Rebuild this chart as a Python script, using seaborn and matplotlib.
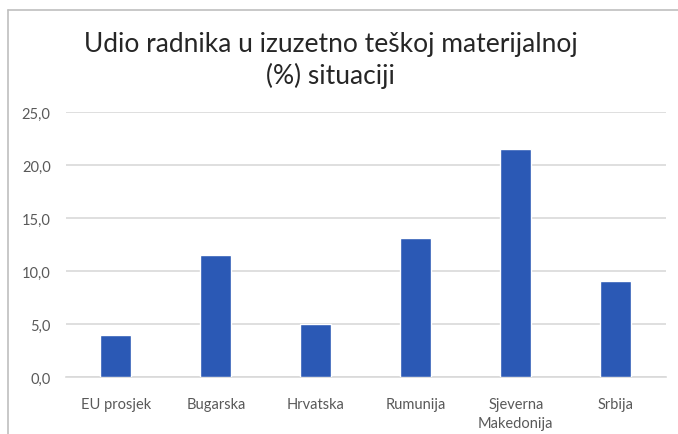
import seaborn as sns
import pandas as pd
import matplotlib.pyplot as plt
from matplotlib.lines import Line2D

countries = ['EU prosjek', 'Bugarska', 'Hrvatska', 'Rumunija', 'Sjeverna\nMakedonija', 'Srbija']
values = [4.0, 11.5, 5.0, 13.1, 21.5, 9.1]
yticks = [0, 5, 10, 15, 20, 25]

df = pd.DataFrame({'zemlja': countries, 'udio': values})

sns.set_theme(style='white')
plt.rcParams['font.family'] = ['Lato', 'DejaVu Sans']

fig = plt.figure(figsize=(6.78, 4.35), dpi=100)
ax = fig.add_axes([0.0973, 0.13, 0.8847, 0.61])

sns.barplot(data=df, x='zemlja', y='udio', color='#2B59B5', width=0.31,
            saturation=1, ax=ax, zorder=3)

ax.set_ylim(0, 25)
ax.set_xlim(-0.5, 5.5)
ax.set_yticks(yticks)
ax.set_yticklabels([f'{t:.1f}'.replace('.', ',') for t in yticks])
ax.yaxis.grid(True, color='#D9D9D9', linewidth=1.2, zorder=0)
ax.set_axisbelow(True)
for s in ['top', 'right', 'left']:
    ax.spines[s].set_visible(False)
ax.spines['bottom'].set_color('#D9D9D9')
ax.spines['bottom'].set_linewidth(1.2)
ax.tick_params(axis='both', length=0, labelsize=10.5, colors='#595959')
ax.tick_params(axis='y', pad=11)
ax.tick_params(axis='x', pad=14)
for lbl in ax.get_xticklabels():
    lbl.set_linespacing(1.5)
ax.set_xlabel('')
ax.set_ylabel('')

fig.text(0.488, 0.861, 'Udio radnika u izuzetno teškoj materijalnoj\n(%) situaciji',
         ha='center', va='center', fontsize=19, color='#262626', linespacing=1.3)

# chart border (top and left visible in the reference)
fig.add_artist(Line2D([0.012, 1.0], [0.975, 0.975], color='#BFBFBF', lw=1.2))
fig.add_artist(Line2D([0.012, 0.012], [0.0, 0.975], color='#BFBFBF', lw=1.2))

plt.savefig('out.png', dpi=100)
